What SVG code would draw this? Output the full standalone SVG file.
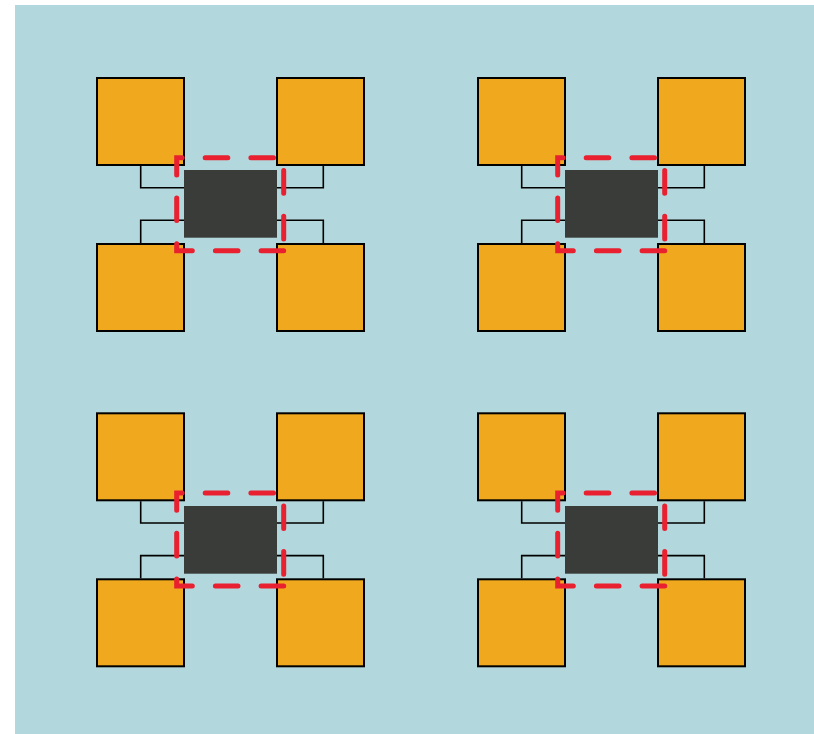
<svg xmlns="http://www.w3.org/2000/svg" width="814" height="734" viewBox="0 0 814 734">
<defs>
<style>
.bg{fill:#b2d8dd}
.sq{fill:#f0a91e;stroke:#000;stroke-width:2}
.core{fill:#3a3c3a}
.wire{fill:none;stroke:#000;stroke-width:1.6}
.sel{fill:none;stroke:#e8202f;stroke-width:5;stroke-linecap:round;stroke-dasharray:22.6 23.1}
</style>
</defs>
<rect x="0" y="0" width="814" height="734" fill="#ffffff"/>
<rect class="bg" x="15" y="5" width="799" height="729"/>

<g id="cluster1" transform="translate(0,0)">
  <g id="c1-connectors">
    <path class="wire" d="M140.7,166 V187.7 H184"/>
    <path class="wire" d="M323.3,166 V187.7 H277"/>
    <path class="wire" d="M140.7,243 V220.3 H184"/>
    <path class="wire" d="M323.3,243 V220.3 H277"/>
  </g>
  <g id="c1-tl"><rect class="sq" x="97" y="78" width="87" height="87"/></g>
  <g id="c1-tr"><rect class="sq" x="277" y="78" width="87" height="87"/></g>
  <g id="c1-bl"><rect class="sq" x="97" y="244" width="87" height="87"/></g>
  <g id="c1-br"><rect class="sq" x="277" y="244" width="87" height="87"/></g>
  <g id="c1-core"><rect class="core" x="184" y="170" width="93" height="67.7"/></g>
  <g id="c1-select"><path class="sel" d="M283.7,250.7 H176.7 V157.7 H283.7 Z"/></g>
</g>

<g id="cluster2" transform="translate(381,0)">
  <g id="c2-connectors">
    <path class="wire" d="M140.7,166 V187.7 H184"/>
    <path class="wire" d="M323.3,166 V187.7 H277"/>
    <path class="wire" d="M140.7,243 V220.3 H184"/>
    <path class="wire" d="M323.3,243 V220.3 H277"/>
  </g>
  <g id="c2-tl"><rect class="sq" x="97" y="78" width="87" height="87"/></g>
  <g id="c2-tr"><rect class="sq" x="277" y="78" width="87" height="87"/></g>
  <g id="c2-bl"><rect class="sq" x="97" y="244" width="87" height="87"/></g>
  <g id="c2-br"><rect class="sq" x="277" y="244" width="87" height="87"/></g>
  <g id="c2-core"><rect class="core" x="184" y="170" width="93" height="67.7"/></g>
  <g id="c2-select"><path class="sel" d="M283.7,250.7 H176.7 V157.7 H283.7 Z"/></g>
</g>

<g id="cluster3" transform="translate(0,335.3)">
  <g id="c3-connectors">
    <path class="wire" d="M140.7,166 V187.7 H184"/>
    <path class="wire" d="M323.3,166 V187.7 H277"/>
    <path class="wire" d="M140.7,243 V220.3 H184"/>
    <path class="wire" d="M323.3,243 V220.3 H277"/>
  </g>
  <g id="c3-tl"><rect class="sq" x="97" y="78" width="87" height="87"/></g>
  <g id="c3-tr"><rect class="sq" x="277" y="78" width="87" height="87"/></g>
  <g id="c3-bl"><rect class="sq" x="97" y="244" width="87" height="87"/></g>
  <g id="c3-br"><rect class="sq" x="277" y="244" width="87" height="87"/></g>
  <g id="c3-core"><rect class="core" x="184" y="170.7" width="93" height="67.7"/></g>
  <g id="c3-select"><path class="sel" d="M283.7,250.7 H176.7 V157.7 H283.7 Z"/></g>
</g>

<g id="cluster4" transform="translate(381,335.3)">
  <g id="c4-connectors">
    <path class="wire" d="M140.7,166 V187.7 H184"/>
    <path class="wire" d="M323.3,166 V187.7 H277"/>
    <path class="wire" d="M140.7,243 V220.3 H184"/>
    <path class="wire" d="M323.3,243 V220.3 H277"/>
  </g>
  <g id="c4-tl"><rect class="sq" x="97" y="78" width="87" height="87"/></g>
  <g id="c4-tr"><rect class="sq" x="277" y="78" width="87" height="87"/></g>
  <g id="c4-bl"><rect class="sq" x="97" y="244" width="87" height="87"/></g>
  <g id="c4-br"><rect class="sq" x="277" y="244" width="87" height="87"/></g>
  <g id="c4-core"><rect class="core" x="184" y="170.7" width="93" height="67.7"/></g>
  <g id="c4-select"><path class="sel" d="M283.7,250.7 H176.7 V157.7 H283.7 Z"/></g>
</g>
</svg>
